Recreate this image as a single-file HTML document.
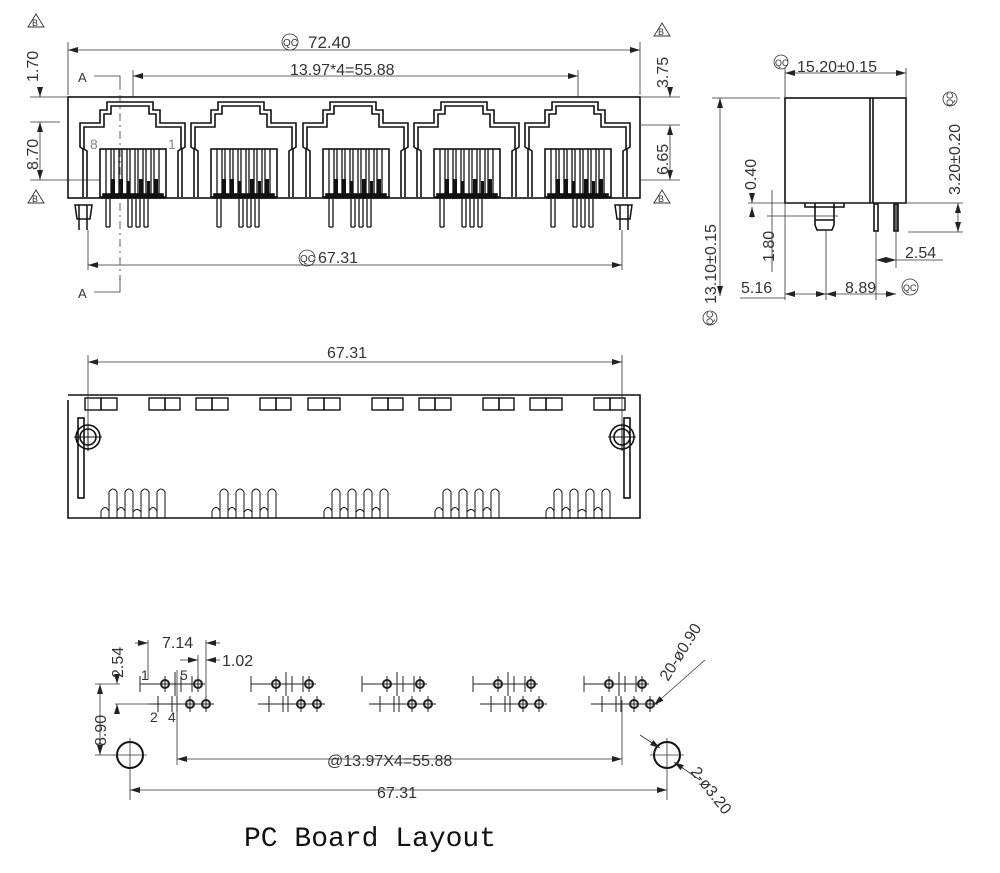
<!DOCTYPE html>
<html><head><meta charset="utf-8"><style>
html,body{margin:0;padding:0;background:#fff;width:1000px;height:873px;overflow:hidden}
svg{display:block}
</style></head><body>
<svg width="1000" height="873" viewBox="0 0 1000 873" xmlns="http://www.w3.org/2000/svg" font-family="Liberation Sans, sans-serif" font-size="16" fill="#333">
<defs>
<marker id="ar" markerWidth="10" markerHeight="6" refX="10" refY="3" orient="auto-start-reverse" markerUnits="userSpaceOnUse"><path d="M0,0 L10,3 L0,6z" fill="#222"/></marker>
<g id="jack" fill="none" stroke="#111" stroke-width="1.6">
<path d="M-50,100 V52 L-53,50 V26 L-33,26 V13 L-26,13 V5 H20 V13 L27,13 V26 L52,26 V50 L49,52 V100"/>
<path d="M-46,100 V54 L-49,52 V30 L-29,30 V17 L-22,17 V9 H16 V17 L23,17 V30 L48,30 V52 L45,54 V100"/>
<rect x="-33" y="52" width="66" height="48"/>
<rect x="-30" y="97" width="60" height="4" fill="#111"/>
<g stroke-width="1.3">
<path d="M-27,52 V97 M-22,52 V97 M-19,52 V97 M-14,52 V97 M-11,52 V97 M-6,52 V97 M-3,52 V97 M2,52 V97 M5,52 V97 M10,52 V97 M13,52 V97 M18,52 V97 M21,52 V97 M26,52 V97"/>
</g>
<g fill="#111" stroke="none">
<rect x="-22" y="82" width="4" height="15"/><rect x="-14" y="82" width="4" height="15"/><rect x="-6" y="84" width="3" height="13"/><rect x="6" y="82" width="4" height="15"/><rect x="14" y="84" width="3" height="13"/><rect x="21" y="82" width="4" height="15"/>
</g>
<path d="M-27,102 V130 M-23,102 V130 M-5,102 V130 M-1,102 V130 M3,102 V130 M7,102 V130 M11,102 V130 M15,102 V130 M-1,130 H-5 M3,130 H7 M11,130 H15 M-27,130 H-23" stroke-width="1.3"/>
</g>
<g id="bot" fill="none" stroke="#111" stroke-width="1.4">
<path d="M-4,518 V492 Q0,486 4,492 V518 M12,518 V492 Q16,486 20,492 V518 M28,518 V492 Q32,486 36,492 V518 M44,518 V492 Q48,486 52,492 V518" stroke-width="1"/>
<path d="M-12,518 V511 Q-8,504 -4,511 V518 M4,518 V511 Q8,504 12,511 V518 M20,518 V512 Q24,507 28,512 V518 M36,518 V511 Q40,504 44,511 V518" stroke-width="1"/>
<rect x="-28" y="398" width="16" height="12"/><rect x="-12" y="398" width="16" height="12"/>
<rect x="36" y="398" width="16" height="12"/><rect x="52" y="398" width="15" height="12"/>
</g>
<g id="pcb" fill="none" stroke="#222" stroke-width="1">
<circle cx="0" cy="0" r="4" stroke-width="2"/><circle cx="33" cy="0" r="4" stroke-width="2"/>
<circle cx="25" cy="20" r="4" stroke-width="2"/><circle cx="41" cy="20" r="4" stroke-width="2"/>
<path d="M-25,0 H40 M-25,-8 V8 M10,-12 V12 M16,-8 V8 M27,-8 V8 M33,-8 V8 M0,-8 V8"/>
<path d="M-18,20 H49 M-7,12 V28 M7,12 V28 M12,12 V28 M25,12 V28 M41,12 V28"/>
</g>
</defs>

<rect x="68" y="97" width="572" height="101" fill="none" stroke="#111" stroke-width="1.6"/>
<use href="#jack" x="133" y="97"/>
<use href="#jack" x="244" y="97"/>
<use href="#jack" x="356" y="97"/>
<use href="#jack" x="467" y="97"/>
<use href="#jack" x="578" y="97"/>
<g fill="none" stroke="#111" stroke-width="1.5">
<path d="M75,205 h17 l-2,14 h-13 z M79,205 V230 M87,205 V230"/>
<path d="M615,205 h17 l-2,14 h-13 z M620,205 V230 M628,205 V230"/>
</g>
<g stroke="#333" stroke-width="0.8" fill="none">
<path d="M68,42 V95 M640,42 V95" />
<path d="M68,50 H640" marker-start="url(#ar)" marker-end="url(#ar)"/>
<path d="M133,70 V97 M578,70 V97"/>
<path d="M133,76 H578" marker-start="url(#ar)" marker-end="url(#ar)"/>
<path d="M88,230 V270 M622,230 V270"/>
<path d="M88,265 H622" marker-start="url(#ar)" marker-end="url(#ar)"/>
<path d="M30,97 H68 M30,180 H100 M30,122 H60 M640,97 H680 M640,125 H680 M640,180 H680"/>
<path d="M40,90 V97" marker-end="url(#ar)"/><path d="M40,180 V122" marker-start="url(#ar)" marker-end="url(#ar)"/>
<path d="M670,90 V97" marker-end="url(#ar)"/><path d="M670,125 V180" marker-start="url(#ar)" marker-end="url(#ar)"/>
<path d="M94,76 H120 V90 M94,292 H120 V278"/>
<path d="M120,95 V280" stroke-dasharray="8 4 2 4"/>
</g>
<text x="308" y="48" font-size="17">72.40</text>
<text x="283" y="46" font-size="10">QC</text><circle cx="290" cy="42" r="8" fill="none" stroke="#333" stroke-width="0.8"/>
<text x="290" y="75" font-size="16">13.97*4=55.88</text>
<text x="318" y="263" font-size="16">67.31</text>
<text x="300" y="262" font-size="10">QC</text><circle cx="307" cy="258" r="8" fill="none" stroke="#333" stroke-width="0.8"/>
<text x="78" y="82" font-size="13">A</text><text x="78" y="298" font-size="13">A</text>
<text x="90" y="149" font-size="14" fill="#888">8</text><text x="168" y="149" font-size="14" fill="#888">1</text>
<text transform="translate(38,82) rotate(-90)" font-size="16">1.70</text>
<text transform="translate(38,170) rotate(-90)" font-size="16">8.70</text>
<text transform="translate(668,88) rotate(-90)" font-size="16">3.75</text>
<text transform="translate(668,175) rotate(-90)" font-size="16">6.65</text>
<g fill="none" stroke="#333" stroke-width="0.9"><path d="M28,27 L36,14 L44,27z M28,203 L36,190 L44,203z M654,36 L662,23 L670,36z M654,203 L662,190 L670,203z"/></g>
<text x="32" y="26" font-size="9">B</text><text x="32" y="202" font-size="9">B</text><text x="658" y="35" font-size="9">B</text><text x="658" y="202" font-size="9">B</text>

<g fill="none" stroke="#111" stroke-width="1.6">
<rect x="785" y="98" width="121" height="105"/>
<path d="M870,98 V203 M873,98 V203"/>
<path d="M805,203 v4 h10 v-4 M834,203 v4 h10 v-4 M815,207 h19 v18 l-2,5 h-15 l-2,-5 z M815,220 h19"/>
<rect x="874" y="204" width="4" height="27"/><rect x="894" y="204" width="4" height="27" fill="#666"/>
</g>
<g stroke="#333" stroke-width="0.8" fill="none">
<path d="M785,68 V98 M906,68 V98"/>
<path d="M785,73 H906" marker-start="url(#ar)" marker-end="url(#ar)"/>
<path d="M712,98 H780"/>
<path d="M720,98 V296" marker-start="url(#ar)" marker-end="url(#ar)"/>
<path d="M748,203 H963 M908,232 H963"/>
<path d="M958,203 V232" marker-start="url(#ar)" marker-end="url(#ar)"/>
<path d="M752,195 V203" marker-end="url(#ar)"/><path d="M752,218 V207" marker-end="url(#ar)"/>
<path d="M767,216 H838 M772,190 V272"/>
<path d="M785,203 V300 M826,230 V300 M876,232 V300 M896,232 V268"/>
<path d="M785,294 H826" marker-start="url(#ar)" marker-end="url(#ar)"/>
<path d="M826,294 H896" marker-start="url(#ar)" marker-end="url(#ar)"/>
<path d="M876,260 H896" marker-start="url(#ar)" marker-end="url(#ar)"/>
<path d="M740,298 H785 M896,260 H943"/>
</g>
<text x="797" y="72" font-size="16">15.20±0.15</text>
<text x="775" y="66" font-size="9">QC</text><circle cx="781" cy="62" r="7" fill="none" stroke="#333" stroke-width="0.8"/>
<text transform="translate(756,190) rotate(-90)" font-size="16">0.40</text>
<text transform="translate(774,262) rotate(-90)" font-size="16">1.80</text>
<text transform="translate(716,304) rotate(-90)" font-size="16">13.10±0.15</text>
<text transform="translate(960,195) rotate(-90)" font-size="16">3.20±0.20</text>
<text x="905" y="258" font-size="16">2.54</text>
<text x="741" y="293" font-size="16">5.16</text>
<text x="845" y="293" font-size="16">8.89</text>
<text x="903" y="291" font-size="9">QC</text><circle cx="910" cy="287" r="8" fill="none" stroke="#333" stroke-width="0.8"/>
<circle cx="950" cy="99" r="7" fill="none" stroke="#333" stroke-width="0.8"/>
<text transform="translate(953,106) rotate(-90)" font-size="9">QC</text>
<circle cx="710" cy="318" r="7" fill="none" stroke="#333" stroke-width="0.8"/>
<text transform="translate(713,325) rotate(-90)" font-size="9">QC</text>

<g fill="none" stroke="#111" stroke-width="1.6">
<path d="M68,395 H640 V518 H68 V400"/>
<rect x="78" y="418" width="6" height="80"/><rect x="624" y="418" width="6" height="80"/>
<circle cx="88" cy="437" r="12"/><circle cx="622" cy="437" r="12"/>
<circle cx="88" cy="437" r="8"/><circle cx="622" cy="437" r="8"/>
<path d="M74,437 H102 M88,423 V451 M608,437 H636 M622,423 V451" stroke-width="1"/>
</g>
<use href="#bot" x="113" y="0"/>
<use href="#bot" x="224" y="0"/>
<use href="#bot" x="336" y="0"/>
<use href="#bot" x="447" y="0"/>
<use href="#bot" x="558" y="0"/>
<g stroke="#333" stroke-width="0.8" fill="none">
<path d="M88,355 V425 M622,355 V425"/>
<path d="M88,362 H622" marker-start="url(#ar)" marker-end="url(#ar)"/>
</g>
<text x="327" y="358" font-size="16">67.31</text>

<use href="#pcb" x="165" y="684"/>
<use href="#pcb" x="276" y="684"/>
<use href="#pcb" x="387" y="684"/>
<use href="#pcb" x="498" y="684"/>
<use href="#pcb" x="609" y="684"/>
<g fill="none" stroke="#111" stroke-width="2"><circle cx="130" cy="755" r="13"/><circle cx="667" cy="755" r="13"/></g>
<g stroke="#333" stroke-width="0.8" fill="none">
<path d="M113,755 H147 M130,738 V800 M650,755 H684 M667,738 V800"/>
<path d="M130,790 H667" marker-start="url(#ar)" marker-end="url(#ar)"/>
<path d="M177,670 V765 M622,700 V765"/>
<path d="M177,759 H622" marker-start="url(#ar)" marker-end="url(#ar)"/>
<path d="M95,684 H120 M115,704 H150 M95,755 H118"/>
<path d="M100,684 V755" marker-start="url(#ar)" marker-end="url(#ar)"/>
<path d="M117,676 V684" marker-end="url(#ar)"/><path d="M117,712 V704" marker-end="url(#ar)"/>
<path d="M148,640 V680 M206,640 V700 M198,655 V680"/>
<path d="M135,643 H148" marker-end="url(#ar)"/><path d="M220,643 H206" marker-end="url(#ar)"/>
<path d="M180,660 H198" marker-end="url(#ar)"/><path d="M220,660 H206" marker-end="url(#ar)"/>
<path d="M705,660 L654,705" marker-end="url(#ar)"/>
<path d="M640,735 L660,748" marker-end="url(#ar)"/>
<path d="M700,780 L674,762" marker-end="url(#ar)"/>
</g>
<text x="162" y="648" font-size="16">7.14</text>
<text x="222" y="666" font-size="16">1.02</text>
<text x="141" y="680" font-size="14">1</text><text x="180" y="680" font-size="14">5</text>
<text x="150" y="722" font-size="14">2</text><text x="168" y="722" font-size="14">4</text>
<text transform="translate(123,678) rotate(-90)" font-size="16">2.54</text>
<text transform="translate(106,746) rotate(-90)" font-size="16">8.90</text>
<text x="327" y="766" font-size="16">@13.97X4=55.88</text>
<text x="377" y="798" font-size="16">67.31</text>
<text transform="translate(668,682) rotate(-58)" font-size="16">20-ø0.90</text>
<text transform="translate(690,772) rotate(52)" font-size="16">2-ø3.20</text>
<text x="244" y="846" font-family="Liberation Mono, monospace" font-size="28" fill="#111">PC Board Layout</text>
</svg>
</body></html>
